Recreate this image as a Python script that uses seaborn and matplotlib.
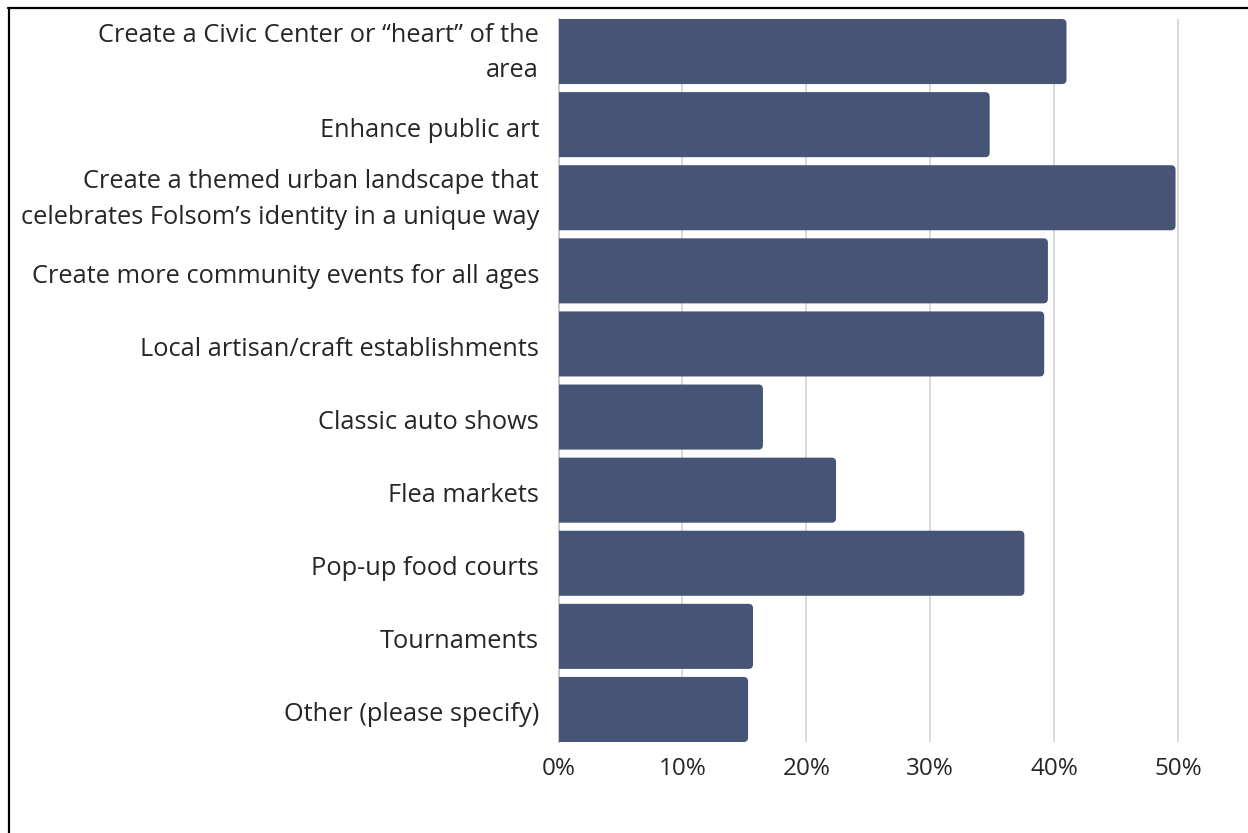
import matplotlib
matplotlib.use("Agg")
import matplotlib.pyplot as plt
from matplotlib.patches import FancyBboxPatch
from matplotlib.lines import Line2D
from matplotlib.ticker import PercentFormatter, FixedLocator
from matplotlib.transforms import ScaledTranslation
import seaborn as sns
import pandas as pd

# Survey responses: share of respondents choosing each option
options = [
    "Create a Civic Center or \u201cheart\u201d of the\narea",
    "Enhance public art",
    "Create a themed urban landscape that\ncelebrates Folsom\u2019s identity in a unique way",
    "Create more community events for all ages",
    "Local artisan/craft establishments",
    "Classic auto shows",
    "Flea markets",
    "Pop-up food courts",
    "Tournaments",
    "Other (please specify)",
]
shares = [0.410, 0.348, 0.498, 0.395, 0.392, 0.165, 0.224, 0.376, 0.157, 0.153]
x_ticks = [0.0, 0.1, 0.2, 0.3, 0.4, 0.5]

df = pd.DataFrame({"option": options, "share": shares})

sns.set_theme(style="white")
plt.rcParams["font.family"] = ["Open Sans", "DejaVu Sans"]

W, H, DPI = 1248, 833, 100
fig = plt.figure(figsize=(W / DPI, H / DPI), dpi=DPI, facecolor="white")

# axes placed in pixel terms
left_px, right_px, top_px, bottom_px = 558.5, 1190.4, 19, 742
ax = fig.add_axes([left_px / W, 1 - bottom_px / H,
                   (right_px - left_px) / W, (bottom_px - top_px) / H])

bar_color = "#465475"
bar_w = 0.89
sns.barplot(data=df, x="share", y="option", orient="h", color=bar_color,
            width=bar_w, saturation=1, ax=ax, zorder=3)

ax.set_xlim(0, 0.51)
ax.set_ylim(len(options) - 1 + bar_w / 2, -bar_w / 2)

# swap the plain bars for ones rounded at the right end; each rounded box
# starts a little left of zero so the axes clip hides its left corners
px_per_x = (right_px - left_px) / 0.51
px_per_y = (bottom_px - top_px) / (len(options) - 1 + bar_w)
radius_px = 4.5
r_x = radius_px / px_per_x
aspect = (radius_px / px_per_y) / r_x
for p in list(ax.patches):
    x, y = p.get_x(), p.get_y()
    w, h = p.get_width(), p.get_height()
    p.remove()
    ext = 3 * r_x
    ax.add_patch(FancyBboxPatch((x - ext, y), w + ext, h,
                                boxstyle=f"round,pad=0,rounding_size={r_x}",
                                mutation_aspect=aspect, facecolor=bar_color,
                                edgecolor="none", zorder=3))

ax.xaxis.set_major_locator(FixedLocator(x_ticks))
ax.xaxis.set_major_formatter(PercentFormatter(1.0, decimals=0))
ax.grid(axis="x", color="#d9d9d9", linewidth=1.4, zorder=0)
ax.grid(axis="y", visible=False)
for side in ["top", "right", "bottom"]:
    ax.spines[side].set_visible(False)
ax.spines["left"].set_color("#c8c8c8")
ax.spines["left"].set_linewidth(1.4)
ax.spines["left"].set_zorder(2)

ax.set_xlabel("")
ax.set_ylabel("")
ax.tick_params(axis="x", length=0, pad=11, labelsize=17.5, labelcolor="#262626")
ax.tick_params(axis="y", length=0, pad=14, labelsize=18.3, labelcolor="#262626")

# nudge category labels so each block sits centred on its bar
for tick in ax.yaxis.get_major_ticks():
    lbl = tick.label1
    lbl.set_linespacing(1.55)
    lbl.set_horizontalalignment("right")
    lbl.set_multialignment("right")
    dy_px = 6.5 if "\n" in lbl.get_text() else -2.5
    lbl.set_transform(lbl.get_transform()
                      + ScaledTranslation(0, dy_px / DPI, fig.dpi_scale_trans))

# frame lines along the top and left of the figure
fig.add_artist(Line2D([8 / W, 1.0], [1 - 7.5 / H, 1 - 7.5 / H],
                      transform=fig.transFigure, color="black", linewidth=1.6))
fig.add_artist(Line2D([8.5 / W, 8.5 / W], [0, 1 - 7.5 / H],
                      transform=fig.transFigure, color="black", linewidth=1.6))

fig.savefig("out.png", dpi=DPI, facecolor="white")
